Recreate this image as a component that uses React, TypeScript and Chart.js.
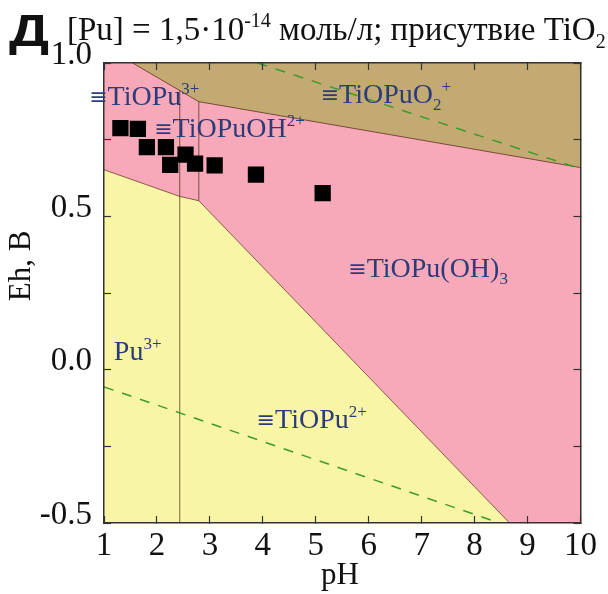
import React, { useEffect, useRef } from 'react';
import { Chart, registerables } from 'chart.js';

Chart.register(...registerables);

// ---- data (pH, Eh in volts) ----
const pointPH = [1.31, 1.64, 1.81, 2.17, 2.25, 2.54, 2.72, 3.09, 3.87, 5.13];
const pointEh = [0.788, 0.785, 0.726, 0.726, 0.668, 0.701, 0.672, 0.666, 0.636, 0.576];

// upper (pink) limit of the diagram
const pinkTopPH = [1, 10];
const pinkTopEh = [1.0, 1.0];

// boundary ≡TiOPuO2+ / pink fields
const tanBoundaryPH = [1.54, 2.79, 10];
const tanBoundaryEh = [1.0, 0.874, 0.659];

// boundary yellow (Pu3+, ≡TiOPu2+) / pink fields
const yellowBoundaryPH = [1, 2.43, 2.79, 8.66];
const yellowBoundaryEh = [0.652, 0.565, 0.551, -0.5];

// vertical field boundaries
const verticalPH = [2.43, 2.79];
const verticalTopEh = [0.91, 0.874];
const verticalBottomEh = [-0.5, 0.551];

// water stability lines (dashed)
const o2LinePH = [3.9, 10];
const o2LineEh = [1.0, 0.655];
const h2LinePH = [1, 8.47];
const h2LineEh = [-0.056, -0.5];

const xTickMin = 1;
const xTickMax = 10;
const yTickMin = -0.5;
const yTickMax = 1.0;

const SERIF = '"Liberation Serif", "DejaVu Serif", serif';
const NAVY = '#2b3c7a';
const PINK = '#f8a9b9';
const YELLOW = '#f9f5a6';
const TAN = '#c2aa72';

type Part = { t: string; k: 'n' | 'sup' | 'sub' | 'eq' };

const regionLabels: { ph: number; eh: number; parts: Part[] }[] = [
  { ph: 0.757, eh: 0.864, parts: [{ t: '≡', k: 'eq' }, { t: 'TiOPu', k: 'n' }, { t: '3+', k: 'sup' }] },
  { ph: 1.985, eh: 0.759, parts: [{ t: '≡', k: 'eq' }, { t: 'TiOPuOH', k: 'n' }, { t: '2+', k: 'sup' }] },
  { ph: 5.13, eh: 0.87, parts: [{ t: '≡', k: 'eq' }, { t: 'TiOPuO', k: 'n' }, { t: '2', k: 'sub' }, { t: '+', k: 'sup' }] },
  { ph: 5.65, eh: 0.303, parts: [{ t: '≡', k: 'eq' }, { t: 'TiOPu(OH)', k: 'n' }, { t: '3', k: 'sub' }] },
  { ph: 1.224, eh: 0.03, parts: [{ t: 'Pu', k: 'n' }, { t: '3+', k: 'sup' }] },
  { ph: 3.92, eh: -0.19, parts: [{ t: '≡', k: 'eq' }, { t: 'TiOPu', k: 'n' }, { t: '2+', k: 'sup' }] },
];

function drawRich(ctx: CanvasRenderingContext2D, x: number, y: number, parts: Part[], size: number, color: string) {
  let cx = x;
  ctx.fillStyle = color;
  ctx.textBaseline = 'alphabetic';
  ctx.textAlign = 'left';
  for (const p of parts) {
    let dy = 0;
    if (p.k === 'eq') {
      ctx.font = `${Math.round(size * 0.8)}px "DejaVu Sans", sans-serif`;
      dy = -size * 0.04;
    } else {
      const s = p.k === 'n' ? size : Math.round(size * 0.62);
      ctx.font = `${s}px ${SERIF}`;
      if (p.k === 'sup') dy = -size * 0.4;
      if (p.k === 'sub') dy = size * 0.25;
    }
    ctx.fillText(p.t, cx, y + dy);
    cx += ctx.measureText(p.t).width;
  }
}

const xy = (xs: number[], ys: number[]) => xs.map((x, i) => ({ x, y: ys[i] }));

export default function App() {
  const ref = useRef<HTMLCanvasElement>(null);

  useEffect(() => {
    if (!ref.current) return;

    const labelsPlugin = {
      id: 'labelsPlugin',
      afterDraw(chart: any) {
        const ctx: CanvasRenderingContext2D = chart.ctx;
        const xs = chart.scales.x;
        const ys = chart.scales.y;
        ctx.save();
        for (const l of regionLabels) {
          drawRich(ctx, xs.getPixelForValue(l.ph) - 2, ys.getPixelForValue(l.eh), l.parts, 28, NAVY);
        }
        // panel letter
        ctx.save();
        ctx.fillStyle = '#111';
        ctx.font = `bold 45px "Liberation Sans", Arial, sans-serif`;
        ctx.textBaseline = 'alphabetic';
        ctx.textAlign = 'left';
        ctx.translate(9, 46);
        ctx.scale(1.25, 1);
        ctx.fillText('Д', 0, 0);
        ctx.restore();
        // title
        drawRich(ctx, 67, 40, [
          { t: '[Pu] = 1,5·10', k: 'n' },
          { t: '-14', k: 'sup' },
          { t: ' моль/л; присутвие TiO', k: 'n' },
          { t: '2', k: 'sub' },
        ], 33, '#111');
        // axis titles
        ctx.fillStyle = '#111';
        ctx.font = `31px ${SERIF}`;
        ctx.textAlign = 'center';
        ctx.textBaseline = 'alphabetic';
        ctx.fillText('pH', 340, 584);
        ctx.save();
        ctx.translate(30, 266);
        ctx.rotate(-Math.PI / 2);
        ctx.fillText('Eh, B', 0, 0);
        ctx.restore();
        ctx.restore();
      },
    };

    const gridOpts = { drawOnChartArea: false, tickLength: -7, tickColor: '#333', tickWidth: 1.2, z: 1 };
    const borderOpts = { color: '#333', width: 1.5, z: 1 };

    const chart = new Chart(ref.current, {
      type: 'scatter',
      data: {
        datasets: [
          {
            data: xy(pinkTopPH, pinkTopEh),
            showLine: true,
            fill: 'start',
            backgroundColor: PINK,
            borderWidth: 0,
            pointRadius: 0,
            order: 10,
          } as any,
          {
            data: xy(yellowBoundaryPH, yellowBoundaryEh),
            showLine: true,
            fill: 'start',
            backgroundColor: YELLOW,
            borderColor: '#8a5a48',
            borderWidth: 1,
            pointRadius: 0,
            order: 9,
          },
          {
            data: xy(tanBoundaryPH, tanBoundaryEh),
            showLine: true,
            fill: 'end',
            backgroundColor: TAN,
            borderColor: '#7a4a3a',
            borderWidth: 1,
            pointRadius: 0,
            order: 8,
          },
          ...verticalPH.map((ph, i) => ({
            data: [{ x: ph, y: verticalTopEh[i] }, { x: ph, y: verticalBottomEh[i] }],
            showLine: true,
            fill: false,
            borderColor: 'rgba(70,45,20,0.6)',
            borderWidth: 1.2,
            pointRadius: 0,
            order: 7,
          })),
          {
            data: xy(o2LinePH, o2LineEh),
            showLine: true,
            fill: false,
            borderColor: '#3f9a2c',
            borderWidth: 1.5,
            borderDash: [10, 9],
            pointRadius: 0,
            order: 6,
          },
          {
            data: xy(h2LinePH, h2LineEh),
            showLine: true,
            fill: false,
            borderColor: '#3f9a2c',
            borderWidth: 1.5,
            borderDash: [10, 9],
            pointRadius: 0,
            order: 6,
          },
          {
            data: xy(pointPH, pointEh),
            showLine: false,
            pointStyle: 'rect',
            pointRadius: 11.5,
            pointBackgroundColor: '#000',
            pointBorderWidth: 0,
            order: 1,
          },
        ],
      },
      options: {
        responsive: false,
        animation: false,
        events: [],
        layout: { padding: { top: 63, right: 22, left: 0, bottom: 0 } },
        plugins: { legend: { display: false }, tooltip: { enabled: false }, title: { display: false } },
        scales: {
          x: {
            type: 'linear',
            position: 'bottom',
            min: xTickMin,
            max: xTickMax,
            ticks: { stepSize: 1, font: { family: SERIF, size: 33 }, color: '#111', padding: 11, maxRotation: 0, z: 1 },
            grid: gridOpts,
            border: borderOpts,
            afterFit: (s: any) => { s.height = 71; },
          },
          x2: {
            type: 'linear',
            position: 'top',
            min: xTickMin,
            max: xTickMax,
            ticks: { stepSize: 1, callback: () => '' },
            grid: gridOpts,
            border: borderOpts,
            afterFit: (s: any) => { s.height = 0; },
          },
          y: {
            type: 'linear',
            position: 'left',
            min: yTickMin,
            max: yTickMax,
            ticks: {
              stepSize: 0.25,
              font: { family: SERIF, size: 33 },
              color: '#111',
              padding: 19,
              labelOffset: -8,
              z: 1,
              callback: (v: any) => {
                const n = Number(v);
                return Math.abs(n * 2 - Math.round(n * 2)) < 1e-6 ? n.toFixed(1) : '';
              },
            },
            grid: gridOpts,
            border: borderOpts,
            afterFit: (s: any) => { s.width = 104; },
          },
          y2: {
            type: 'linear',
            position: 'right',
            min: yTickMin,
            max: yTickMax,
            ticks: { stepSize: 0.25, callback: () => '' },
            grid: gridOpts,
            border: borderOpts,
            afterFit: (s: any) => { s.width = 0; },
          },
        },
      } as any,
      plugins: [labelsPlugin],
    });

    return () => chart.destroy();
  }, []);

  return (
    <div style={{ position: 'fixed', left: 0, top: 0, width: 608, height: 594, background: '#fff' }}>
      <canvas ref={ref} width={608} height={594} style={{ display: 'block' }} />
    </div>
  );
}
